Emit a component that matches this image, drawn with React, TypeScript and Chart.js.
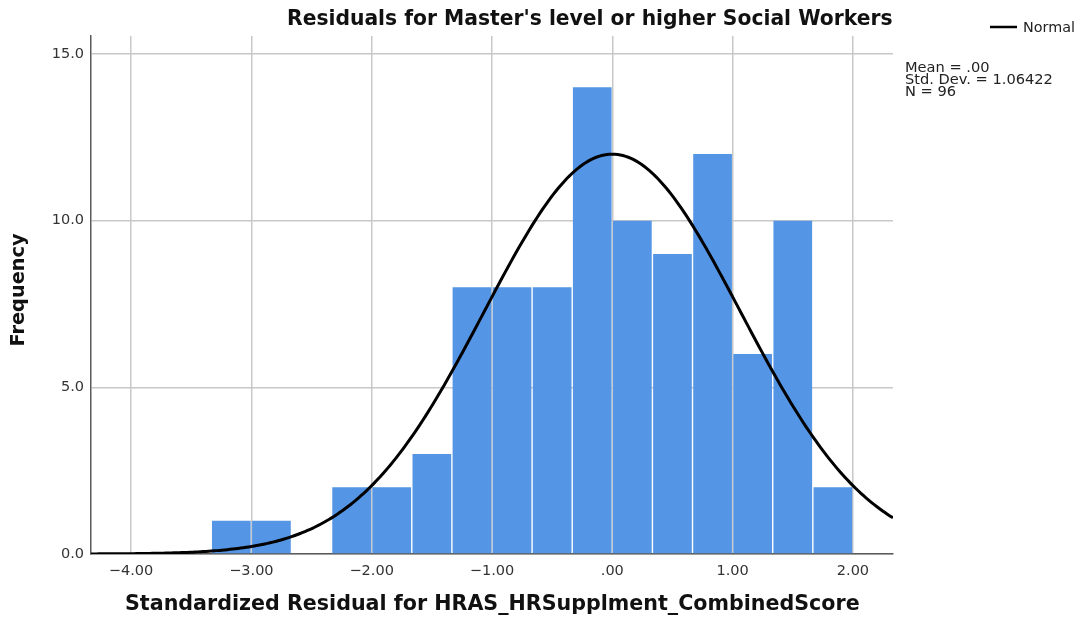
import React, { useEffect, useRef } from "react";
import { Chart, registerables } from "chart.js";

Chart.register(...registerables);

// ---- data ----
const binCenters = [
  -3.1667, -2.8333, -2.5, -2.1667, -1.8333, -1.5, -1.1667, -0.8333,
  -0.5, -0.1667, 0.1667, 0.5, 0.8333, 1.1667, 1.5, 1.8333,
];
const frequencies = [1, 1, 0, 2, 2, 3, 8, 8, 8, 14, 10, 9, 12, 6, 10, 2];
const xTickValues = [-4, -3, -2, -1, 0, 1, 2];
const yTickValues = [0, 5, 10, 15];
const statsLabels = ["Mean = .00", "Std. Dev. = 1.06422", "N = 96"];
const normalMean = 0;
const normalSd = 1.06422;
const normalN = 96;
const binWidth = 1 / 3;
const xRange = [-4.333, 2.333];
const yRange = [0, 15.54];

const title = "Residuals for Master's level or higher Social Workers";
const xTitle = "Standardized Residual for HRAS_HRSupplment_CombinedScore";
const yTitle = "Frequency";
const legendLabel = "Normal";

const FONT = "DejaVu Sans";

function normalCurve() {
  const pts: { x: number; y: number }[] = [];
  const steps = 300;
  for (let i = 0; i <= steps; i++) {
    const x = xRange[0] + ((xRange[1] - xRange[0]) * i) / steps;
    const z = (x - normalMean) / normalSd;
    const y =
      (normalN * binWidth) / (normalSd * Math.sqrt(2 * Math.PI)) *
      Math.exp(-0.5 * z * z);
    pts.push({ x, y });
  }
  return pts;
}

function fitText(ctx: CanvasRenderingContext2D, text: string, weight: string, width: number) {
  ctx.font = `${weight} 20px "${FONT}"`;
  const w = ctx.measureText(text).width;
  const size = (20 * width) / w;
  ctx.font = `${weight} ${size.toFixed(2)}px "${FONT}"`;
}

const textPlugin = {
  id: "texts",
  afterDraw(chart: any) {
    const ctx: CanvasRenderingContext2D = chart.ctx;
    ctx.save();
    ctx.fillStyle = "#111";
    ctx.textBaseline = "middle";
    // title
    fitText(ctx, title, "bold", 606);
    ctx.textAlign = "left";
    ctx.fillText(title, 287, 20);
    // x title
    fitText(ctx, xTitle, "bold", 735);
    ctx.fillText(xTitle, 125, 605);
    // y title
    ctx.save();
    ctx.translate(19, 290);
    ctx.rotate(-Math.PI / 2);
    fitText(ctx, yTitle, "bold", 113);
    ctx.textAlign = "center";
    ctx.fillText(yTitle, 0, 0);
    ctx.restore();
    // legend
    ctx.strokeStyle = "#000";
    ctx.lineWidth = 2.5;
    ctx.beginPath();
    ctx.moveTo(990, 27);
    ctx.lineTo(1017, 27);
    ctx.stroke();
    ctx.fillStyle = "#222";
    fitText(ctx, legendLabel, "normal", 52);
    ctx.textAlign = "left";
    ctx.fillText(legendLabel, 1023, 28);
    // stats
    fitText(ctx, statsLabels[1], "normal", 148);
    statsLabels.forEach((s, i) => {
      ctx.fillText(s, 905, 68 + i * 12);
    });
    ctx.restore();
  },
};

export default function App() {
  const ref = useRef<HTMLCanvasElement | null>(null);
  useEffect(() => {
    if (!ref.current) return;
    const chart = new Chart(ref.current, {
      type: "bar",
      data: {
        datasets: [
          {
            type: "line",
            data: normalCurve(),
            borderColor: "#000",
            borderWidth: 3,
            pointRadius: 0,
            tension: 0,
            order: 1,
          } as any,
          {
            type: "bar",
            data: binCenters.map((x, i) => ({ x, y: frequencies[i] })),
            backgroundColor: "rgb(84,149,229)",
            borderWidth: 0,
            barPercentage: 0.965,
            categoryPercentage: 1,
            order: 2,
          } as any,
        ],
      },
      options: {
        responsive: false,
        animation: false,
        layout: { padding: { top: 36, right: 186, left: 0, bottom: 0 } },
        plugins: {
          legend: { display: false },
          tooltip: { enabled: false },
          title: { display: false },
        },
        scales: {
          x: {
            type: "linear",
            offset: false,
            min: xRange[0],
            max: xRange[1],
            afterBuildTicks: (s: any) => {
              s.ticks = xTickValues.map((v) => ({ value: v }));
            },
            afterFit: (s: any) => {
              s.height = 63;
            },
            ticks: {
              padding: 9,
              color: "#333",
              font: { family: FONT, size: 14.5 },
              callback: (v: any) =>
                v === 0 ? ".00" : (v < 0 ? "\u2212" : "") + Math.abs(v).toFixed(2),
            },
            grid: { color: "#c8c8c8", lineWidth: 1.5, drawTicks: false, offset: false },
            border: { color: "#5a5a5a", width: 1.5 },
          },
          y: {
            type: "linear",
            min: yRange[0],
            max: yRange[1],
            afterBuildTicks: (s: any) => {
              s.ticks = yTickValues.map((v) => ({ value: v }));
            },
            afterFit: (s: any) => {
              s.width = 91;
            },
            ticks: {
              padding: 7,
              color: "#333",
              font: { family: FONT, size: 14.5 },
              callback: (v: any) => Number(v).toFixed(1),
            },
            grid: { color: "#c8c8c8", lineWidth: 1.5, drawTicks: false },
            border: { color: "#5a5a5a", width: 1.5 },
          },
        },
      } as any,
      plugins: [textPlugin],
    });
    return () => chart.destroy();
  }, []);
  return (
    <div style={{ position: "fixed", left: 0, top: 0, width: 1079, height: 617, background: "#fff" }}>
      <canvas ref={ref} width={1079} height={617} style={{ display: "block" }} />
    </div>
  );
}
